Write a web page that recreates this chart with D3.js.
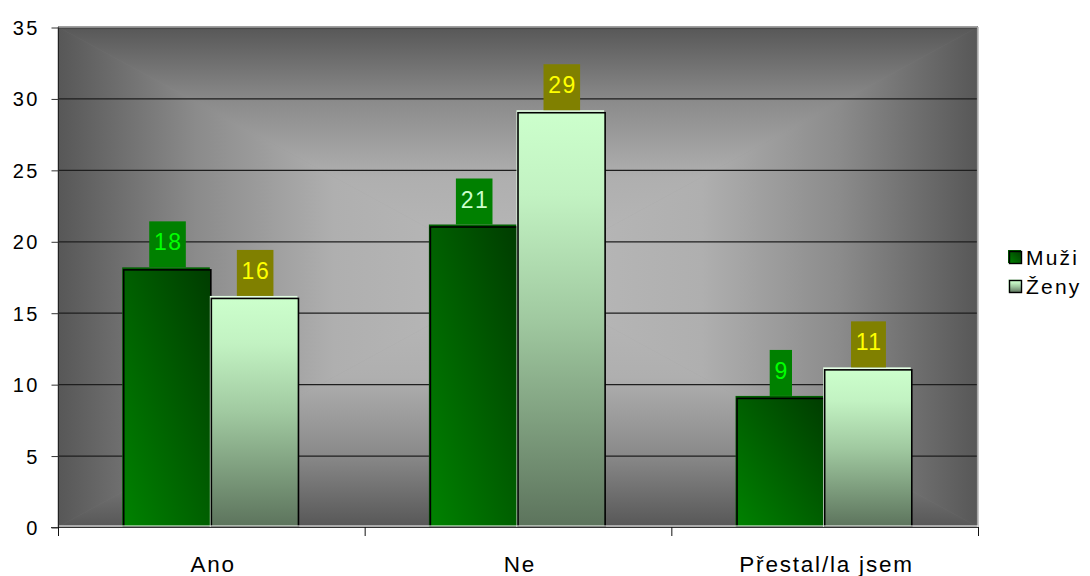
<!DOCTYPE html>
<html>
<head>
<meta charset="utf-8">
<script src="https://cdn.jsdelivr.net/npm/d3@7"></script>
<style>
  html, body { margin: 0; padding: 0; background: #ffffff; }
  svg { display: block; font-family: "Liberation Sans", Arial, sans-serif; }
</style>
</head>
<body>
<svg id="chart" width="1090" height="576"></svg>
<script>
// Odpovědi podle pohlaví
const categories = ["Ano", "Ne", "Přestal/la jsem"];
const seriesNames = ["Muži", "Ženy"];
const muzi = [18, 21, 9];
const zeny = [16, 29, 11];
const yTicks = [0, 5, 10, 15, 20, 25, 30, 35];

const seriesValues = [muzi, zeny];
const labelBox = ["#008000", "#808000"];
const labelText = [["#00ff00", "#ccffcc", "#00ff00"], ["#ffff00", "#ffff00", "#ffff00"]];

const svg = d3.select("#chart");
const plot = { left: 58, right: 978, top: 27, bottom: 527 };
const cx = (plot.left + plot.right) / 2, cy = (plot.top + plot.bottom) / 2;

const defs = svg.append("defs");

// Background: rectangular "from centre" gradient built from four triangles
const bgStops = [[0, "#575757"], [0.3, "#8b8b8b"], [0.6, "#afafaf"], [1, "#bababa"]];
function bgGrad(id, x1, y1, x2, y2) {
  const g = defs.append("linearGradient").attr("id", id)
    .attr("gradientUnits", "userSpaceOnUse")
    .attr("x1", x1).attr("y1", y1).attr("x2", x2).attr("y2", y2);
  bgStops.forEach(s => g.append("stop").attr("offset", s[0]).attr("stop-color", s[1]));
}
bgGrad("bgTop", 0, plot.top, 0, cy);
bgGrad("bgBottom", 0, plot.bottom, 0, cy);
bgGrad("bgLeft", plot.left, 0, cx, 0);
bgGrad("bgRight", plot.right, 0, cx, 0);

const gMuzi = defs.append("linearGradient").attr("id", "gMuzi")
  .attr("x1", 0).attr("y1", 1).attr("x2", 1).attr("y2", 0);
gMuzi.append("stop").attr("offset", 0).attr("stop-color", "#008200");
gMuzi.append("stop").attr("offset", 1).attr("stop-color", "#003c00");

const gZeny = defs.append("linearGradient").attr("id", "gZeny")
  .attr("x1", 0).attr("y1", 0).attr("x2", 0).attr("y2", 1);
gZeny.append("stop").attr("offset", 0).attr("stop-color", "#ccffcc");
gZeny.append("stop").attr("offset", 0.2).attr("stop-color", "#c2f2c2");
gZeny.append("stop").attr("offset", 0.5).attr("stop-color", "#a0c9a0");
gZeny.append("stop").attr("offset", 1).attr("stop-color", "#5c735c");
const fills = ["url(#gMuzi)", "url(#gZeny)"];
const edgeFills = ["#006000", "#e4ffe4"];

const bg = svg.append("g");
bg.append("rect").attr("x", plot.left).attr("y", plot.top)
  .attr("width", plot.right - plot.left).attr("height", plot.bottom - plot.top)
  .attr("fill", "#8a8a8a");
const tri = [
  [[plot.left, plot.top], [plot.right, plot.top], [cx, cy], "bgTop"],
  [[plot.left, plot.bottom], [plot.right, plot.bottom], [cx, cy], "bgBottom"],
  [[plot.left, plot.top], [plot.left, plot.bottom], [cx, cy], "bgLeft"],
  [[plot.right, plot.top], [plot.right, plot.bottom], [cx, cy], "bgRight"]
];
tri.forEach(t => {
  bg.append("polygon")
    .attr("points", t.slice(0, 3).map(p => p.join(",")).join(" "))
    .attr("fill", `url(#${t[3]})`)
    .attr("stroke", `url(#${t[3]})`).attr("stroke-width", 0.6);
});

// Scales
const x0 = d3.scaleBand().domain(categories).range([plot.left, plot.right]).paddingInner(0).paddingOuter(0);
const x1 = d3.scaleBand().domain(seriesNames).range([0, x0.bandwidth()]).paddingInner(0).paddingOuter(0.75);
const y = d3.scaleLinear().domain([0, 35]).range([plot.bottom, plot.top]);

// Gridlines
svg.append("g").selectAll("line").data(yTicks.filter(d => d > 0)).join("line")
  .attr("x1", plot.left).attr("x2", plot.right)
  .attr("y1", d => y(d) + 0.5).attr("y2", d => y(d) + 0.5)
  .attr("stroke", "#1e1e1e").attr("stroke-width", 1.3);

// Plot frame highlights
svg.append("line").attr("x1", plot.left).attr("x2", plot.right).attr("y1", plot.top + 0.5).attr("y2", plot.top + 0.5)
  .attr("stroke", "#8a8a8a").attr("stroke-width", 1);
svg.append("line").attr("x1", plot.right - 0.5).attr("x2", plot.right - 0.5).attr("y1", plot.top).attr("y2", plot.bottom)
  .attr("stroke", "#a8a8a8").attr("stroke-width", 1.2);

// Bars
const bars = svg.append("g");
seriesNames.forEach((s, si) => {
  const g = bars.append("g");
  const data = categories.map((c, ci) => ({ c, v: seriesValues[si][ci] }));
  // lit edge sitting just above/left of the bar body
  g.selectAll("rect.edge").data(data).join("rect").attr("class", "edge")
    .attr("x", d => x0(d.c) + x1(s) - 1.5)
    .attr("y", d => y(d.v) - 2.5)
    .attr("width", x1.bandwidth())
    .attr("height", d => y(0) - y(d.v) + 2.5)
    .attr("fill", edgeFills[si]);
  g.selectAll("rect.body").data(data).join("rect").attr("class", "body")
    .attr("x", d => x0(d.c) + x1(s))
    .attr("y", d => y(d.v))
    .attr("width", x1.bandwidth() - 0.5)
    .attr("height", d => y(0) - y(d.v))
    .attr("fill", fills[si])
    .attr("stroke", "#000").attr("stroke-width", 1.6);
});

// Axes lines
svg.append("line").attr("x1", plot.left).attr("x2", plot.right).attr("y1", plot.bottom - 1).attr("y2", plot.bottom - 1)
  .attr("stroke", "#ffffff").attr("stroke-width", 1.2);
svg.append("line").attr("x1", plot.left - 7).attr("x2", plot.right).attr("y1", plot.bottom + 0.5).attr("y2", plot.bottom + 0.5)
  .attr("stroke", "#333").attr("stroke-width", 1);

const yAxis = d3.axisLeft(y).tickValues(yTicks).tickSize(7).tickPadding(12).tickSizeOuter(0);
const yg = svg.append("g").attr("transform", `translate(${plot.left + 0.5},0.5)`).call(yAxis);
yg.select(".domain").attr("stroke", "#222").attr("d", `M0,${plot.top}V${plot.bottom + 8}`);
yg.selectAll(".tick line").attr("stroke", "#333");
yg.selectAll(".tick text").attr("font-size", 20).attr("fill", "#000")
  .attr("letter-spacing", 2.2)
  .attr("font-family", "Liberation Sans, Arial, sans-serif").attr("dy", "0.35em");

// Category boundary ticks and labels
const bounds = categories.map(c => x0(c)).concat([plot.right]);
svg.append("g").selectAll("line").data(bounds).join("line")
  .attr("x1", d => d + 0.5).attr("x2", d => d + 0.5)
  .attr("y1", plot.bottom).attr("y2", plot.bottom + 9)
  .attr("stroke", "#111").attr("stroke-width", 1);
const catLS = 1.8;
svg.append("g").selectAll("text").data(categories).join("text")
  .attr("x", d => x0(d) + x0.bandwidth() / 2 + 1 + catLS / 2)
  .attr("y", 572)
  .attr("text-anchor", "middle")
  .attr("font-size", 22.5)
  .attr("letter-spacing", catLS)
  .attr("fill", "#000")
  .text(d => d);

// Value labels
const valLS = 1.5;
const labels = svg.append("g");
seriesNames.forEach((s, si) => {
  categories.forEach((c, ci) => {
    const v = seriesValues[si][ci];
    const xc = x0(c) + x1(s) + x1.bandwidth() / 2;
    const t = labels.append("text")
      .attr("x", xc + valLS / 2).attr("y", y(v) - 19.5)
      .attr("text-anchor", "middle").attr("font-size", 23)
      .attr("letter-spacing", valLS)
      .attr("fill", labelText[si][ci]).text(v);
    const w = t.node().getComputedTextLength() + 8;
    labels.insert("rect", "text")
      .attr("x", xc - w / 2).attr("y", y(v) - 48.5)
      .attr("width", w).attr("height", 46)
      .attr("fill", labelBox[si]);
  });
});

// Legend
const legend = svg.append("g");
seriesNames.forEach((s, si) => {
  const ly = 251 + si * 29;
  legend.append("rect").attr("x", 1008).attr("y", ly - 1).attr("width", 13).attr("height", 13)
    .attr("fill", edgeFills[si]);
  legend.append("rect").attr("x", 1009.5).attr("y", ly + 0.5).attr("width", 12).attr("height", 12)
    .attr("fill", fills[si]).attr("stroke", "#000").attr("stroke-width", 1.4);
  legend.append("text").attr("x", 1026).attr("y", ly + 14)
    .attr("font-size", 21).attr("letter-spacing", 2.2).attr("fill", "#000").text(s);
});
</script>
</body>
</html>
